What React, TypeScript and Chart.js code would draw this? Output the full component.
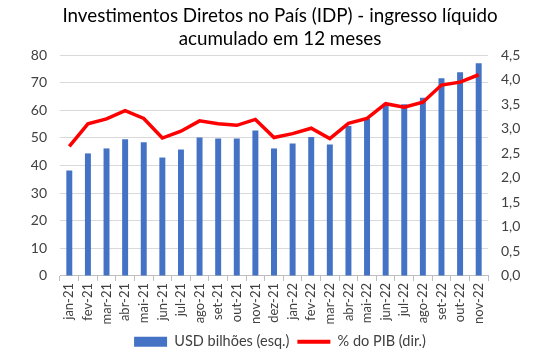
import React, { useEffect, useRef } from "react";
import { Chart, registerables } from "chart.js";

Chart.register(...registerables);

const categories = [
  "jan-21", "fev-21", "mar-21", "abr-21", "mai-21", "jun-21", "jul-21", "ago-21",
  "set-21", "out-21", "nov-21", "dez-21", "jan-22", "fev-22", "mar-22", "abr-22",
  "mai-22", "jun-22", "jul-22", "ago-22", "set-22", "out-22", "nov-22",
];

const usdBilhoes = [
  38.2, 44.4, 46.2, 49.5, 48.4, 42.9, 45.8, 50.2, 49.8, 49.8, 52.7, 46.2,
  48.0, 50.3, 47.6, 54.3, 57.0, 62.4, 62.2, 64.6, 71.6, 73.8, 77.1,
];

const pctPIB = [
  2.64, 3.10, 3.20, 3.37, 3.21, 2.81, 2.95, 3.16, 3.10, 3.07, 3.19, 2.82,
  2.90, 3.01, 2.80, 3.11, 3.21, 3.51, 3.44, 3.54, 3.89, 3.95, 4.10,
];

const titleLines = [
  "Investimentos Diretos no País (IDP) - ingresso líquido",
  "acumulado em 12 meses",
];

const seriesNames = ["USD bilhões (esq.)", "% do PIB (dir.)"];

const FONT = "Lato, 'Noto Sans', sans-serif";

export default function App() {
  const ref = useRef<HTMLCanvasElement | null>(null);

  useEffect(() => {
    if (!ref.current) return;
    const chart = new Chart(ref.current, {
      type: "bar",
      data: {
        labels: categories,
        datasets: [
          {
            type: "bar",
            label: seriesNames[0],
            data: usdBilhoes,
            backgroundColor: "#4472C4",
            borderWidth: 0,
            yAxisID: "y",
            categoryPercentage: 1,
            barPercentage: 0.32,
            order: 2,
          },
          {
            type: "line",
            label: seriesNames[1],
            data: pctPIB,
            borderColor: "#FF0000",
            backgroundColor: "#FF0000",
            borderWidth: 3.5,
            pointRadius: 0,
            tension: 0,
            yAxisID: "y1",
            order: 1,
          } as any,
        ],
      },
      options: {
        animation: false,
        responsive: false,
        maintainAspectRatio: false,
        layout: { padding: { left: 0, right: 0, top: 3, bottom: -3 } },
        plugins: {
          title: {
            display: true,
            text: titleLines,
            color: "#000",
            font: { family: FONT, size: 18.8, weight: "normal" },
            lineHeight: 1.22,
            padding: { top: 2, bottom: 5 },
          },
          legend: {
            position: "bottom",
            labels: {
              color: "#404040",
              font: { family: FONT, size: 14.5 },
              usePointStyle: true,
              pointStyleWidth: 33,
              boxHeight: 10,
              padding: 8,
              generateLabels: (c: any) => {
                const items = (Chart.defaults.plugins.legend.labels as any)
                  .generateLabels(c)
                  .sort((a: any, b: any) => a.datasetIndex - b.datasetIndex);
                items[0].pointStyle = "rect";
                items[0].lineWidth = 0;
                items[0].fillStyle = "#4472C4";
                items[1].pointStyle = "line";
                items[1].lineWidth = 4;
                items[1].strokeStyle = "#FF0000";
                return items;
              },
            },
          },
          tooltip: { enabled: false },
        },
        scales: {
          x: {
            offset: true,
            grid: {
              offset: true,
              drawOnChartArea: false,
              drawTicks: true,
              tickLength: 5,
              color: "#bfbfbf",
            },
            border: { display: true, color: "#bfbfbf" },
            ticks: {
              color: "#404040",
              font: { family: FONT, size: 13 },
              minRotation: 90,
              maxRotation: 90,
              autoSkip: false,
              padding: 2,
            },
          },
          y: {
            position: "left",
            min: 0,
            max: 80,
            ticks: {
              stepSize: 10,
              color: "#404040",
              font: { family: FONT, size: 14 },
              padding: 13,
            },
            grid: { color: "#d9d9d9", drawTicks: false },
            border: { display: false },
            afterFit: (s: any) => {
              s.width = 60;
            },
          },
          y1: {
            position: "right",
            min: 0,
            max: 4.5,
            ticks: {
              stepSize: 0.5,
              color: "#404040",
              font: { family: FONT, size: 14 },
              padding: 13,
              callback: (v: any) => Number(v).toFixed(1).replace(".", ","),
            },
            grid: { drawOnChartArea: false, drawTicks: false },
            border: { display: false },
            afterFit: (s: any) => {
              s.width = 72;
            },
          },
        },
      },
    });
    return () => chart.destroy();
  }, []);

  return (
    <div style={{ position: "fixed", left: 0, top: 0, width: 560, height: 356, background: "#fff" }}>
      <canvas ref={ref} width={560} height={356} style={{ width: 560, height: 356 }} />
    </div>
  );
}
